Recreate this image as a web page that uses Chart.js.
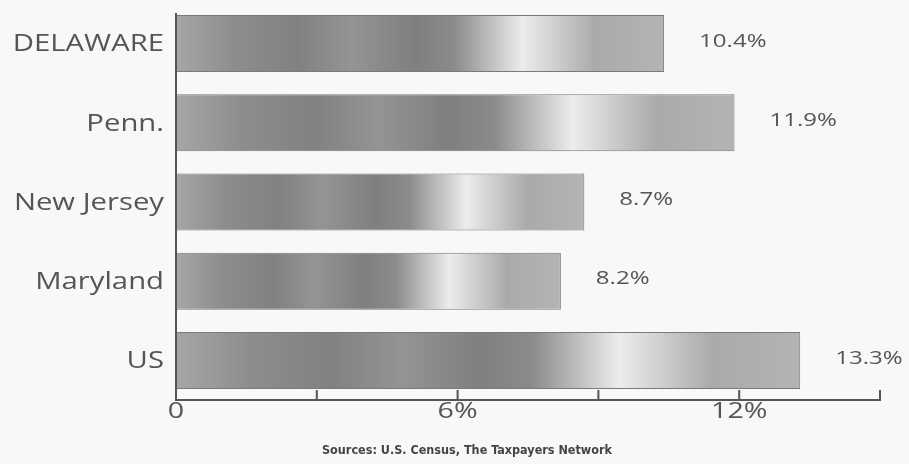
<!DOCTYPE html>
<html>
<head>
<meta charset="utf-8">
<script src="https://cdn.jsdelivr.net/npm/chart.js@4.4.1/dist/chart.umd.min.js"></script>
<style>
  html, body { margin: 0; padding: 0; background: #f8f8f6; }
  #wrap { width: 909px; height: 464px; }
</style>
</head>
<body>
<div id="wrap"><canvas id="grafica"></canvas></div>
<script>
// datos
const estados = ["DELAWARE", "Penn.", "New Jersey", "Maryland", "US"];
const valores = [10.4, 11.9, 8.7, 8.2, 13.3];
const ticksX = [0, 3, 6, 9, 12, 15];
const etiquetasX = { 0: "0", 6: "6%", 12: "12%" };
const fuente = "Sources: U.S. Census, The Taxpayers Network";

const gris = "#555";

// degradado metalico por barra
function degradado(ctx) {
  const chart = ctx.chart;
  const x = chart.scales.x;
  if (!x || ctx.dataIndex === undefined) return "#999";
  const x0 = x.getPixelForValue(0);
  const x1 = x.getPixelForValue(valores[ctx.dataIndex]);
  if (!isFinite(x0) || !isFinite(x1) || x1 <= x0) return "#999";
  const g = chart.ctx.createLinearGradient(x0, 0, x1, 0);
  g.addColorStop(0, "#a6a6a6");
  g.addColorStop(0.12, "#8d8d8d");
  g.addColorStop(0.25, "#818181");
  g.addColorStop(0.36, "#949494");
  g.addColorStop(0.49, "#7f7f7f");
  g.addColorStop(0.57, "#8b8b8b");
  g.addColorStop(0.71, "#ececec");
  g.addColorStop(0.86, "#aaaaaa");
  g.addColorStop(1, "#b4b4b4");
  return g;
}

// el escaneo original esta ensanchado en horizontal
function texto(c, txt, x, y, align, estirar) {
  c.save();
  c.translate(x, y);
  c.scale(estirar, 1);
  c.textAlign = align;
  c.fillText(txt, 0, 0);
  c.restore();
}

// eje vertical, ticks hacia arriba, etiquetas y valores
const extras = {
  id: "extras",
  afterDraw(chart) {
    const c = chart.ctx;
    const x = chart.scales.x;
    const y = chart.scales.y;
    const area = chart.chartArea;
    c.save();
    c.strokeStyle = gris;
    c.lineWidth = 2;
    c.beginPath();
    c.moveTo(area.left, area.top + 9);
    c.lineTo(area.left, area.bottom);
    c.stroke();
    ticksX.forEach(v => {
      const px = x.getPixelForValue(v);
      c.beginPath();
      c.moveTo(px, area.bottom);
      c.lineTo(px, area.bottom - 10);
      c.stroke();
    });
    c.fillStyle = gris;
    c.textBaseline = "middle";

    // categorias
    c.font = "24px 'Open Sans'";
    estados.forEach((e, i) => {
      texto(c, e, area.left - 12, y.getPixelForValue(i) + 1, "right", 1.22);
    });

    // eje x
    c.font = "22px 'Open Sans'";
    ticksX.forEach(v => {
      if (etiquetasX[v]) texto(c, etiquetasX[v], x.getPixelForValue(v), area.bottom + 12, "center", 1.3);
    });

    // valores
    c.font = "18.5px 'Open Sans'";
    const meta = chart.getDatasetMeta(0);
    meta.data.forEach((el, i) => {
      texto(c, valores[i].toFixed(1) + "%", el.x + 35, el.y - 2, "left", 1.3);
    });

    // fuente
    c.fillStyle = "#444";
    c.font = "bold 12.5px 'Liberation Sans Narrow', 'DejaVu Sans Condensed'";
    c.textAlign = "center";
    c.fillText(fuente, 467, 451);
    c.restore();
  }
};

new Chart(document.getElementById("grafica"), {
  type: "bar",
  data: {
    labels: estados,
    datasets: [{
      data: valores,
      backgroundColor: degradado,
      borderColor: "#7a7a7a",
      borderWidth: 1,
      borderSkipped: false,
      barPercentage: 0.9,
      categoryPercentage: 0.8
    }]
  },
  options: {
    indexAxis: "y",
    responsive: true,
    maintainAspectRatio: false,
    animation: false,
    layout: { padding: { top: 4, right: 29, left: 0, bottom: 64 } },
    plugins: {
      legend: { display: false },
      tooltip: { enabled: false }
    },
    scales: {
      x: {
        min: 0,
        max: 15,
        afterBuildTicks: s => { s.ticks = ticksX.map(v => ({ value: v })); },
        afterFit: s => { s.height = 0; s.paddingLeft = 0; s.paddingRight = 0; },
        grid: { display: false, drawTicks: false },
        border: { display: true, color: gris, width: 2 },
        ticks: { display: false }
      },
      y: {
        afterFit: s => { s.width = 176; s.paddingTop = 0; s.paddingBottom = 0; },
        grid: { display: false, drawTicks: false },
        border: { display: false },
        ticks: { display: false }
      }
    }
  },
  plugins: [extras]
});
</script>
</body>
</html>
